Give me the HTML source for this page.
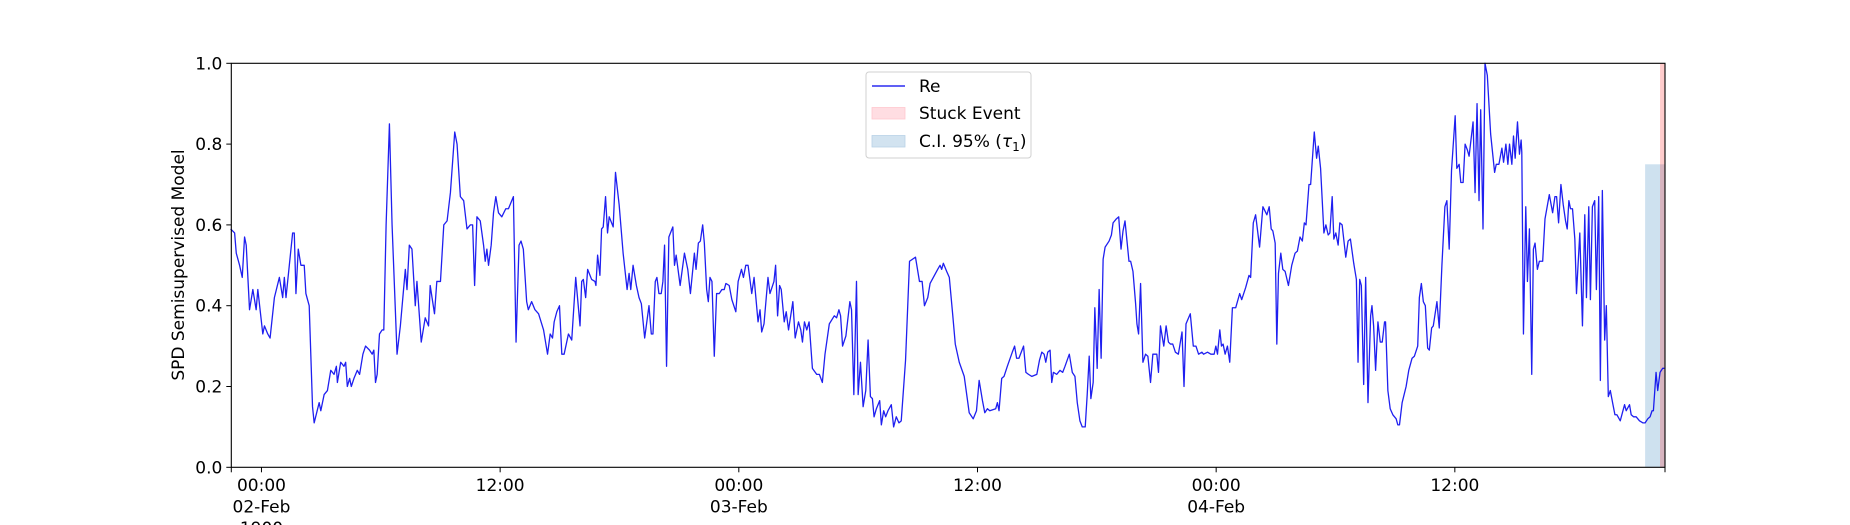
<!DOCTYPE html>
<html><head><meta charset="utf-8"><style>
html,body{margin:0;padding:0;background:#fff;}
svg{display:block;font-family:"DejaVu Sans","Liberation Sans",sans-serif;}
</style></head><body>
<svg id="chart" width="1850" height="525" viewBox="0 0 1850 525">
<rect width="1850" height="525" fill="#fff"/>
<g id="plot"></g>
</svg>
<script>
// minutes since 02-Feb 00:00
const times = [-93,-81,-76,-66,-58,-51,-46,-36,-26,-16,-11,4,9,19,26,39,54,64,69,74,84,94,99,104,111,119,129,134,144,154,159,174,179,189,199,209,219,226,229,239,249,254,259,266,271,279,289,296,306,314,326,334,339,344,349,356,364,369,376,386,394,409,419,434,439,446,454,464,469,482,494,504,509,522,529,540,550,560,570,583,590,600,610,620,630,637,643,650,660,670,675,680,685,693,700,707,715,725,737,745,760,768,777,783,790,800,805,815,825,836,
851,863,871,878,883,891,899,906,913,926,936,948,961,966,971,978,984,996,1006,1009,1014,1021,1026,1031,1038,1044,1049,1061,1068,1079,1091,1103,1109,1114,1121,1131,1139,1146,1156,1169,1176,1181,1188,1193,1199,1206,1211,1216,1222,1229,1241,1246,1251,1263,1276,1286,1294,1306,1311,1318,1324,1331,1336,1343,1348,1353,1359,1366,1373,1381,1389,1396,1401,1411,1419,1431,1438,1448,1454,1461,1468,1479,1486,1498,1504,1509,1516,1528,1534,1546,1551,1557,1563,1568,
1577,1583,1590,1603,1610,1620,1627,1632,1638,1645,1652,1662,1675,1683,1692,1700,1713,1728,1735,1742,1747,1753,1763,1775,1780,1787,1795,1800,1807,1815,1823,1830,1837,1843,1848,1855,1865,1870,1877,1883,1890,1900,1907,1915,1923,1930,1943,1955,1973,1985,1993,2000,2010,2017,2040,2047,2052,2057,2067,2075,2085,2093,2105,2120,2135,2147,2157,2165,2175,2182,2190,2197,2215,2220,2225,2233,2240,2250,2265,2272,2278,2285,
2299,2306,2314,2324,2339,2347,2354,2361,2366,2372,2379,2384,2389,2399,2409,2417,2424,2437,2446,2454,2461,2469,2476,2485,2491,2497,2502,2509,2514,2521,2527,2533,2539,2545,2557,2564,2569,2579,2586,2593,2599,2605,2611,2617,2622,2629,2637,2641,2646,2652,2659,2667,2674,2682,2689,2697,2701,2706,2712,2722,2729,2736,2742,2749,2757,2766,2777,2783,2789,2802,2811,2819,2827,2837,2842,2854,2864,2874,2879,2884,2891,2896,2901,2907,2914,2921,2929,2939,2951,2957,2969,2979,2984,2992,2999,3011,
3021,3033,3040,3046,3051,3058,3063,3068,3075,3081,3088,3098,3108,3118,3125,3133,3140,3146,3151,3160,3165,3176,3183,3188,3195,3205,3211,3218,3223,3230,3235,3241,3248,3253,3260,3271,3278,3285,3295,3303,3308,3313,3318,3325,3331,3338,3346,3350,3355,3361,3368,3375,3381,3388,3391,3398,3405,3413,3423,3428,3433,3441,3453,3461,3471,3478,3488,3493,3499,3505,3511,3518,3523,3530,3535,3546,3553,3561,3570,3576,3583,3590,3601,3606,3613,3618,3625,3631,3638,3643,3655,3661,3667,3673,3678,3685,3691,3698,3708,3720,3725,3733,
3742,3747,3754,3760,3765,3772,3777,3782,3789,3795,3800,3802,3807,3814,3819,3825,3832,3837,3842,3849,3855,3865,3872,3885,3895,3902,3907,3913,3920,3927,3934,3939,3944,3949,3955,3962,3967,3977,3985,3992,3997,4004,4009,4015,4022,4027,4034,4039,4045,4052,4057,4063,4069,4077,4083,4089,4099,4112,4117,4127,4132,4139,4147,4157,4167,4174,4182,4189,4195,4199,4207,4212,4219,4227,4232];
const values = [.59,.58,.53,.50,.47,.57,.55,.39,.44,.39,.44,.33,.35,.33,.32,.42,.47,.42,.47,.42,.50,.58,.58,.43,.54,.50,.50,.43,.40,.15,.11,.16,.14,.18,.19,.24,.23,.25,.21,.26,.25,.26,.20,.22,.20,.22,.24,.23,.28,.30,.29,.28,.29,.21,.23,.33,.34,.34,.60,.85,.60,.28,.35,.49,.44,.55,.54,.40,.46,.31,.37,.35,.45,.38,.46,.46,.60,.61,.68,.83,.80,.67,.66,.59,.60,.60,.45,.62,.61,.55,.51,.54,.50,.55,.63,.67,.63,.62,.64,.64,.67,.31,.55,.56,.54,.41,.39,.41,.39,.38,
.34,.28,.33,.32,.36,.385,.40,.28,.28,.33,.315,.47,.35,.46,.465,.42,.49,.465,.46,.45,.525,.475,.59,.595,.67,.58,.62,.595,.73,.65,.53,.44,.48,.44,.50,.45,.42,.405,.32,.40,.33,.33,.46,.47,.43,.43,.46,.55,.25,.57,.595,.50,.525,.45,.53,.49,.43,.53,.49,.555,.56,.60,.555,.44,.41,.47,.46,.275,.43,.43,.44,.44,.455,.45,.415,.385,.46,.49,.47,.50,.50,.43,.47,.36,.39,.335,.355,.47,.43,.46,.50,.375,.45,.44,
.36,.385,.34,.41,.32,.36,.34,.31,.36,.34,.36,.245,.23,.23,.21,.28,.355,.375,.37,.39,.375,.30,.325,.41,.39,.18,.46,.18,.26,.15,.19,.315,.175,.17,.125,.145,.165,.105,.14,.125,.14,.155,.10,.125,.11,.115,.265,.51,.52,.46,.46,.40,.42,.455,.49,.50,.49,.505,.485,.47,.38,.305,.26,.225,.135,.12,.14,.215,.165,.135,.145,.14,.145,.16,.14,.22,.225,.25,.285,.30,.27,.27,
.30,.235,.23,.225,.23,.265,.285,.28,.26,.285,.29,.21,.235,.23,.24,.235,.25,.28,.235,.225,.16,.115,.10,.10,.18,.275,.17,.21,.395,.245,.44,.27,.515,.545,.56,.575,.605,.615,.62,.54,.585,.61,.56,.51,.51,.485,.405,.355,.33,.455,.26,.28,.275,.21,.28,.28,.28,.235,.35,.30,.35,.31,.305,.305,.285,.28,.335,.20,.355,.38,.30,.30,.28,.285,.28,.285,.28,.28,.30,.28,.34,.30,.305,.28,.30,.26,.395,.395,.43,.415,.445,.475,.47,.605,.625,.545,
.645,.625,.645,.59,.585,.555,.305,.48,.53,.49,.485,.45,.50,.53,.535,.57,.56,.605,.60,.70,.70,.83,.765,.795,.74,.58,.60,.575,.58,.67,.565,.58,.55,.605,.60,.52,.56,.565,.505,.465,.26,.465,.45,.205,.47,.16,.375,.40,.35,.24,.36,.31,.31,.36,.36,.19,.145,.13,.12,.105,.105,.16,.20,.24,.27,.275,.30,.42,.455,.41,.40,.295,.29,.345,.35,.41,.345,.50,.645,.66,.54,.735,.87,.74,.75,.705,.705,.80,.785,.77,.855,.68,.90,.66,.885,.59,1.0,.97,.825,.73,.75,.75,
.79,.755,.80,.75,.80,.75,.82,.765,.855,.775,.81,.78,.33,.645,.46,.59,.23,.54,.555,.49,.51,.51,.615,.675,.63,.67,.67,.605,.70,.65,.61,.59,.66,.64,.64,.565,.43,.58,.35,.625,.42,.645,.415,.645,.66,.44,.67,.215,.685,.315,.40,.175,.19,.155,.13,.13,.115,.155,.14,.155,.13,.125,.125,.115,.11,.11,.12,.125,.14,.14,.235,.19,.235,.245,.245];
const xTicks = [0,720,1440,2160,2880,3600];
const xTickLabels = [["00:00","02-Feb","1900"],["12:00"],["00:00","03-Feb"],["12:00"],["00:00","04-Feb"],["12:00"]];
const yTicks = [0,0.2,0.4,0.6,0.8,1.0];
const yTickLabels = ["0.0","0.2","0.4","0.6","0.8","1.0"];
const ciBand = [4174, 4234, 0.75];
const stuckBand = [4219, 4234, 1.0];

const L=231.3,R=1665,T=63.3,B=467.3,XMIN=-91,XMAX=4234;
const NS='http://www.w3.org/2000/svg';
const xs=m=>L+(m-XMIN)/(XMAX-XMIN)*(R-L);
const ys=v=>B-v*(B-T);
const g=document.getElementById('plot');
function mk(tag,attrs,parent){const e=document.createElementNS(NS,tag);for(const k in attrs)e.setAttribute(k,attrs[k]);(parent||g).appendChild(e);return e;}

// bands
let ci=mk('rect',{x:xs(ciBand[0]),y:ys(ciBand[2]),width:xs(ciBand[1])-xs(ciBand[0]),height:ys(0)-ys(ciBand[2]),fill:'#1f77b4','fill-opacity':0.22});


let st=mk('rect',{x:xs(stuckBand[0]),y:ys(stuckBand[2]),width:xs(stuckBand[1])-xs(stuckBand[0]),height:ys(0)-ys(stuckBand[2]),fill:'#ff0000','fill-opacity':0.2});



// line
let d='';
const n=Math.min(times.length,values.length);
for(let i=0;i<n;i++){d+=(i?'L':'M')+xs(times[i]).toFixed(2)+','+ys(values[i]).toFixed(2);}
let ln=mk('path',{d:d,fill:'none',stroke:'#0000ee','stroke-opacity':0.88,'stroke-width':1.3,'stroke-linejoin':'round'});



// axes frame
let fr=mk('rect',{x:L,y:T,width:R-L,height:B-T,fill:'none',stroke:'#000','stroke-width':1.1});



// y ticks
yTicks.forEach((v,i)=>{
  const y=ys(v);
  let t=mk('line',{x1:L-5,x2:L,y1:y,y2:y,stroke:'#000','stroke-width':1});
  
  
  let tx=mk('text',{x:L-9,y:y+6,'text-anchor':'end','font-size':17,fill:'#000'});
  tx.textContent=yTickLabels[i];
  
  
});
// x ticks
[XMIN].concat(xTicks,[XMAX]).forEach(m=>{
  const x=xs(m);
  let t=mk('line',{x1:x,x2:x,y1:B,y2:B+5,stroke:'#000','stroke-width':1});
  
  
});
xTicks.forEach((m,i)=>{
  const x=xs(m);
  xTickLabels[i].forEach((s,j)=>{
    let tx=mk('text',{x:x,y:491+j*21.5,'text-anchor':'middle','font-size':17,fill:'#000'});
    tx.textContent=s;
    
    
  });
});
// y axis title
let yt=mk('text',{x:0,y:0,transform:'translate(184,265) rotate(-90)','text-anchor':'middle','font-size':17,fill:'#000'});
yt.textContent='SPD Semisupervised Model';



// legend
const lg=mk('g',{});


mk('rect',{x:866,y:72,width:165,height:86,rx:3,fill:'#fff','fill-opacity':0.85,stroke:'#d0d0d0','stroke-width':1},lg);
let e1=mk('line',{x1:872,x2:905,y1:86,y2:86,stroke:'#0000ee','stroke-width':1.3},lg);


let t1=mk('text',{x:919,y:92,'font-size':17,fill:'#000'},lg);t1.textContent='Re';


let e2=mk('rect',{x:872,y:107.5,width:33,height:11.5,fill:'#ffdde2',stroke:'#ffc8cf','stroke-width':0.8},lg);


let t2=mk('text',{x:919,y:119,'font-size':17,fill:'#000'},lg);t2.textContent='Stuck Event';


let e3=mk('rect',{x:872,y:135.5,width:33,height:11.5,fill:'#d2e3f0',stroke:'#b9d2e6','stroke-width':0.8},lg);


let t3=mk('text',{x:919,y:147,'font-size':17,fill:'#000'},lg);


t3.textContent='C.I. 95% (';
let ts=mk('tspan',{'font-style':'italic'},t3);ts.textContent='τ';
let ts2=mk('tspan',{dy:4,'font-size':12},t3);ts2.textContent='1';
let ts3=mk('tspan',{dy:-4},t3);ts3.textContent=')';
</script>
</body></html>
